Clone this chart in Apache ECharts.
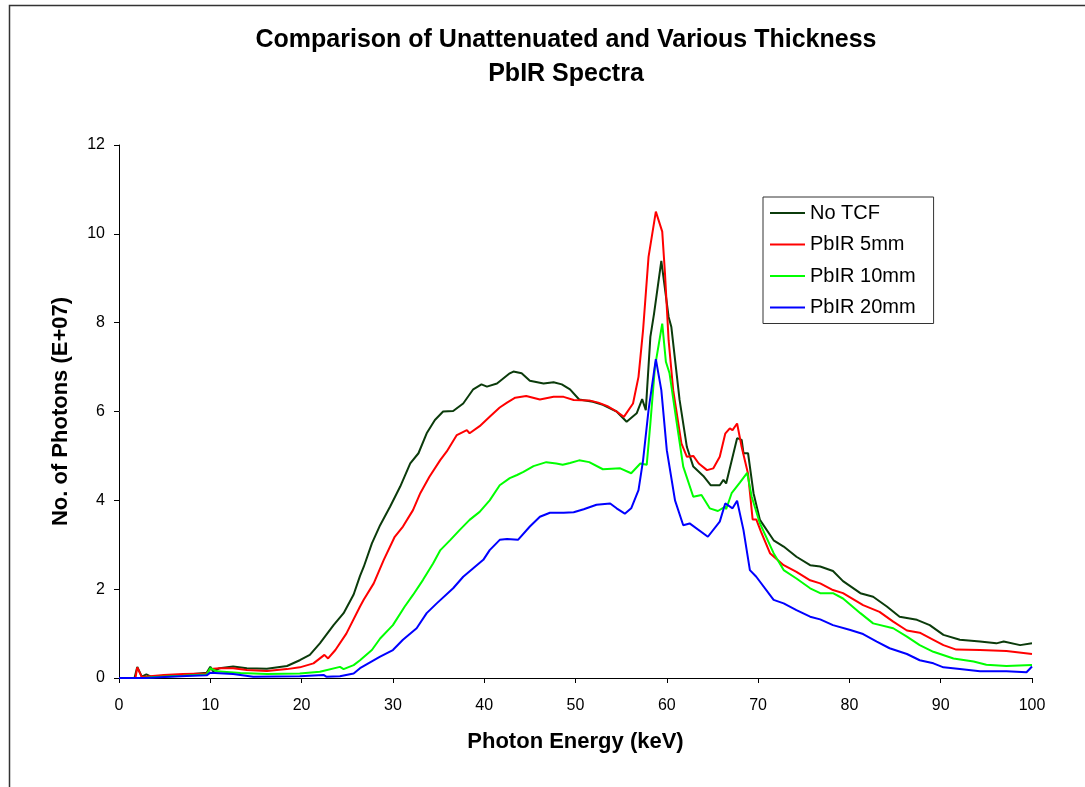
<!DOCTYPE html>
<html>
<head>
<meta charset="utf-8">
<script src="https://cdn.jsdelivr.net/npm/echarts@6/dist/echarts.min.js"></script>
<style>
html,body{margin:0;padding:0;background:#fff;}
#chart{width:1085px;height:787px;}
</style>
</head>
<body>
<div id="chart"></div>
<script>
// Series names
const seriesNames = ['No TCF', 'PbIR 5mm', 'PbIR 10mm', 'PbIR 20mm'];
const yTicks = [0, 2, 4, 6, 8, 10, 12];
const xTicks = [0, 10, 20, 30, 40, 50, 60, 70, 80, 90, 100];

// [energy keV, photons (E+07)]
const noTCF = [[0,0],[1.7,0],[2.0,0.25],[2.5,0.03],[3.0,0.08],[3.5,0.03],[5,0.05],[7,0.07],[9.6,0.12],[10,0.25],[10.3,0.15],[11,0.22],[12.5,0.26],[14,0.22],[16.2,0.21],[18.4,0.27],[19.8,0.4],[20.9,0.52],[22,0.78],[23.5,1.19],[24.6,1.46],[25.7,1.88],[26.4,2.3],[26.8,2.5],[27.7,3.03],[28.6,3.44],[29.7,3.86],[30.8,4.31],[31.9,4.83],[32.8,5.06],[33.7,5.51],[34.6,5.81],[35.5,6.0],[36.6,6.01],[37.7,6.18],[38.8,6.5],[39.7,6.61],[40.3,6.56],[41.4,6.63],[42.8,6.86],[43.2,6.9],[44.1,6.86],[45,6.69],[46.5,6.63],[47.6,6.66],[48.5,6.61],[49.4,6.5],[50.4,6.27],[51.9,6.22],[53,6.15],[54.5,6.0],[55.6,5.77],[56.7,5.96],[57.3,6.28],[57.7,6.03],[58.2,7.68],[58.6,8.2],[59.4,9.39],[60.2,8.13],[60.5,7.9],[61.4,6.26],[62.2,5.2],[62.9,4.76],[64,4.55],[64.8,4.34],[65.8,4.34],[66.2,4.46],[66.5,4.38],[67.7,5.4],[68.2,5.36],[68.4,5.06],[68.9,5.06],[69.5,4.16],[70.2,3.56],[71.7,3.1],[72.8,2.96],[74.2,2.73],[75.7,2.54],[76.8,2.51],[78.2,2.41],[79.3,2.18],[81.2,1.91],[82.6,1.83],[84.1,1.61],[85.5,1.38],[87.4,1.31],[88.8,1.19],[90.3,0.97],[92.1,0.86],[94.3,0.82],[96.1,0.78],[96.9,0.82],[98.7,0.74],[100,0.78]];

const pb5mm = [[0,0],[1.8,0],[2.0,0.24],[2.5,0.02],[4.9,0.07],[7,0.09],[9.6,0.1],[10,0.2],[11,0.22],[12.5,0.22],[14,0.18],[16.2,0.16],[18.4,0.2],[19.8,0.24],[21.3,0.33],[22.5,0.52],[22.9,0.44],[23.7,0.63],[24.9,1.0],[26.4,1.61],[26.8,1.76],[27.9,2.13],[29,2.66],[30.2,3.18],[31.1,3.41],[32.2,3.78],[33,4.16],[34,4.53],[35.2,4.91],[35.9,5.1],[37,5.47],[38.1,5.58],[38.4,5.51],[39.5,5.67],[40.6,5.88],[41.7,6.09],[42.5,6.2],[43.4,6.31],[44.6,6.35],[46.1,6.27],[47.6,6.33],[48.7,6.33],[49.8,6.26],[51.5,6.25],[52.5,6.2],[53.5,6.12],[54.5,6.0],[55.3,5.88],[56.3,6.18],[56.9,6.78],[57.4,7.83],[58,9.48],[58.8,10.5],[59.5,10.05],[59.8,9.11],[60.2,7.6],[60.7,6.48],[61.6,5.28],[62.2,4.98],[62.9,5.0],[63.5,4.83],[64.4,4.68],[65.1,4.72],[65.8,4.98],[66.4,5.5],[66.9,5.62],[67.2,5.58],[67.7,5.73],[68.2,5.2],[68.9,4.6],[69.4,3.57],[69.8,3.57],[70.3,3.3],[71.3,2.81],[72.8,2.54],[74.2,2.39],[75.7,2.2],[76.8,2.13],[78.2,1.98],[79.3,1.91],[81.5,1.64],[83.3,1.49],[84.8,1.27],[86.3,1.07],[87.7,1.02],[89.2,0.86],[90.3,0.74],[91.7,0.64],[94.3,0.63],[97.2,0.61],[100,0.54]];

const pb10mm = [[0,0],[2.5,0],[4,0.02],[7,0.05],[9.6,0.08],[10,0.22],[10.7,0.15],[13.3,0.11],[16.2,0.09],[19.8,0.1],[22,0.14],[24.2,0.25],[24.6,0.2],[25.7,0.29],[26.4,0.4],[27.7,0.63],[28.6,0.89],[30,1.19],[31.3,1.61],[32.2,1.87],[33.3,2.21],[34.4,2.58],[35.2,2.88],[36.3,3.11],[37.3,3.33],[38.4,3.56],[39.5,3.74],[40.6,4.0],[41.7,4.34],[42.8,4.5],[43.6,4.57],[44.3,4.64],[45.4,4.77],[46.8,4.86],[47.9,4.83],[48.6,4.8],[49.4,4.84],[50.4,4.9],[51.5,4.86],[53,4.7],[54.9,4.72],[56.1,4.61],[57.1,4.83],[57.8,4.8],[58.2,5.73],[58.7,7.0],[59.5,7.98],[59.9,7.12],[60.3,6.86],[61.1,5.73],[61.8,4.76],[62.9,4.08],[63.8,4.12],[64.7,3.82],[65.6,3.76],[66.4,3.86],[66.5,3.8],[67.1,4.16],[68,4.4],[68.8,4.62],[69.3,4.08],[70.2,3.48],[71.7,2.81],[72.8,2.43],[74.2,2.24],[75.7,2.02],[76.8,1.91],[78.2,1.91],[79.3,1.79],[81.2,1.46],[82.6,1.23],[84.8,1.12],[86.3,0.93],[87.7,0.74],[89.2,0.59],[91.4,0.44],[93.6,0.37],[95,0.3],[97.2,0.27],[100,0.29]];

const pb20mm = [[0,0],[3,0],[5,0.02],[8,0.05],[9.6,0.06],[10,0.12],[12.5,0.09],[14.7,0.03],[19.8,0.04],[22.4,0.07],[22.7,0.03],[24.2,0.04],[25.7,0.1],[26.4,0.22],[27.5,0.35],[28.6,0.48],[30,0.63],[31.1,0.86],[32.6,1.12],[33.7,1.46],[34.8,1.68],[36.6,2.02],[37.7,2.28],[38.8,2.47],[39.9,2.66],[40.6,2.88],[41.7,3.11],[42.5,3.13],[43.7,3.11],[45,3.41],[46.1,3.63],[47.2,3.72],[48.7,3.72],[49.8,3.73],[50.9,3.8],[52.3,3.9],[53.8,3.93],[54.5,3.82],[55.4,3.7],[56.1,3.82],[56.9,4.23],[57.4,4.9],[58,6.03],[58.8,7.18],[59.4,6.48],[60,5.13],[60.9,4.0],[61.8,3.44],[62.5,3.48],[64.5,3.18],[65.8,3.52],[66.4,3.93],[66.6,3.97],[67.2,3.82],[67.7,3.99],[68.4,3.33],[69.1,2.43],[69.8,2.28],[71.7,1.76],[72.8,1.68],[74.2,1.53],[75.7,1.38],[76.8,1.32],[78.2,1.19],[80.1,1.08],[81.5,0.99],[83,0.82],[84.4,0.67],[86.3,0.54],[87.7,0.4],[89.2,0.33],[90.3,0.24],[92.1,0.2],[94.3,0.15],[97.2,0.15],[99.4,0.13],[100,0.26]];

const colors = ['#0b3b0b', '#ff0000', '#00ff00', '#0000ff'];
const seriesData = [noTCF, pb5mm, pb10mm, pb20mm];

const FONT = '"Liberation Sans", Arial, sans-serif';
const chart = echarts.init(document.getElementById('chart'), null, {renderer: 'canvas'});

chart.setOption({
  animation: false,
  backgroundColor: '#ffffff',
  graphic: [
    {type: 'rect', shape: {x: 9.5, y: 5.5, width: 1200, height: 900}, style: {fill: 'none', stroke: '#333', lineWidth: 1.5}, silent: true, z: 0},
    {type: 'text', x: 566, y: 23, style: {text: 'Comparison of Unattenuated and Various Thickness\nPbIR Spectra', font: 'bold 25px ' + FONT, fill: '#000', align: 'center', lineHeight: 34}, z: 10}
  ],
  grid: {left: 119, right: 53, top: 145, bottom: 109, containLabel: false},
  legend: {
    show: true,
    orient: 'vertical',
    left: 763, top: 197,
    data: seriesNames.map((n, i) => ({name: n, icon: 'rect', itemStyle: {color: colors[i]}})),
    itemWidth: 35, itemHeight: 2, itemGap: 11.5,
    padding: [6, 18, 6, 7],
    borderColor: '#333', borderWidth: 1, backgroundColor: '#fff',
    textStyle: {fontFamily: FONT, fontSize: 20, color: '#000', lineHeight: 20}
  },
  xAxis: {
    type: 'value', min: 0, max: 100, interval: 10,
    name: 'Photon Energy (keV)', nameLocation: 'middle', nameGap: 53,
    nameTextStyle: {fontFamily: FONT, fontSize: 22, fontWeight: 'bold', color: '#000'},
    axisLine: {show: true, onZero: false, lineStyle: {color: '#000', width: 1}},
    axisTick: {show: true, inside: false, length: 5, lineStyle: {color: '#000'}},
    axisLabel: {margin: 20, fontFamily: FONT, fontSize: 16, color: '#000'},
    splitLine: {show: false}
  },
  yAxis: {
    type: 'value', min: 0, max: 12, interval: 2,
    name: 'No. of Photons (E+07)', nameLocation: 'middle', nameGap: 47, nameRotate: 90,
    nameTextStyle: {fontFamily: FONT, fontSize: 22, fontWeight: 'bold', color: '#000'},
    axisLine: {show: true, lineStyle: {color: '#000', width: 1}},
    axisTick: {show: true, inside: false, length: 5, lineStyle: {color: '#000'}},
    axisLabel: {margin: 14, fontFamily: FONT, fontSize: 16, color: '#000'},
    splitLine: {show: false}
  },
  series: seriesNames.map((n, i) => ({
    name: n, type: 'line', data: seriesData[i],
    showSymbol: false, symbol: 'none', smooth: false,
    lineStyle: {color: colors[i], width: 2},
    itemStyle: {color: colors[i]},
    z: 2 + i
  }))
});
</script>
</body>
</html>
